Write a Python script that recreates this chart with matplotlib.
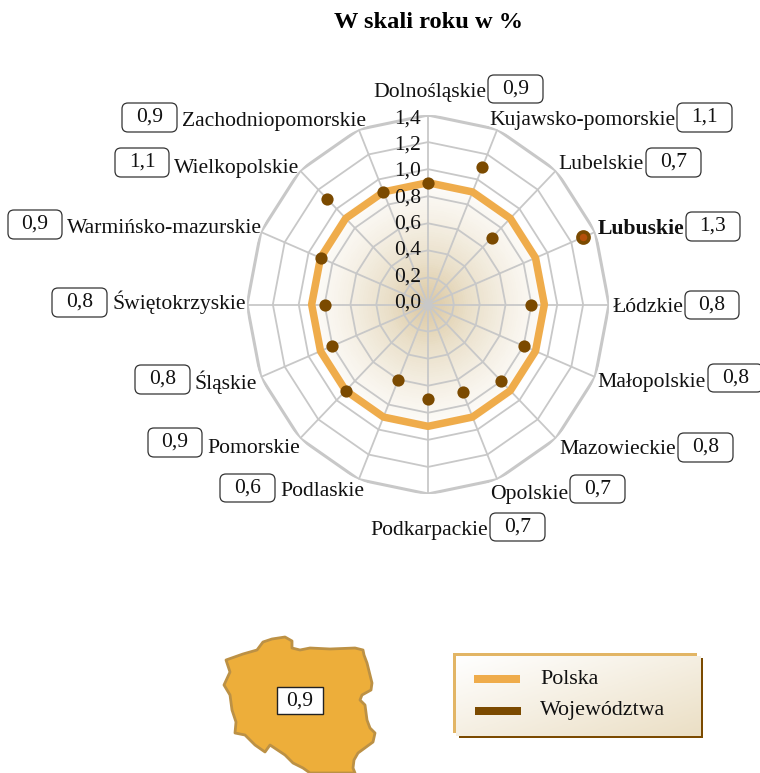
import numpy as np
import matplotlib
matplotlib.use('Agg')
import matplotlib.pyplot as plt
from matplotlib.colors import LinearSegmentedColormap
from matplotlib.patches import FancyBboxPatch, Polygon, Rectangle

plt.rcParams['font.family'] = ['Liberation Serif', 'DejaVu Serif']

# data
regions = ['Dolnośląskie', 'Kujawsko-pomorskie', 'Lubelskie', 'Lubuskie', 'Łódzkie', 'Małopolskie',
           'Mazowieckie', 'Opolskie', 'Podkarpackie', 'Podlaskie', 'Pomorskie', 'Śląskie',
           'Świętokrzyskie', 'Warmińsko-mazurskie', 'Wielkopolskie', 'Zachodniopomorskie']
woj_values = [0.9, 1.1, 0.7, 1.3, 0.8, 0.8, 0.8, 0.7, 0.7, 0.6, 0.9, 0.8, 0.8, 0.9, 1.1, 0.9]
polska_values = [0.9] * 16
ring_ticks = [0.0, 0.2, 0.4, 0.6, 0.8, 1.0, 1.2, 1.4]
highlight = 'Lubuskie'

# pill box in pixels: left, right, top, bottom
pills = [(488, 543, 75, 103), (677, 732, 103, 132), (646, 701, 148, 177), (686, 740, 212, 241),
         (685, 739, 291, 319), (708, 763, 364, 392), (678, 733, 433, 462), (570, 625, 475, 503),
         (490, 545, 513, 541), (220, 275, 474, 502), (148, 202, 428, 457), (135, 190, 365, 394),
         (52, 107, 288, 317), (8, 62, 210, 239), (115, 169, 148, 177), (122, 177, 103, 132)]
# vertical nudge of each region name against its pill, pixels
label_dy = [4, 3, 2, 3, 2, 5, 2, 5, 3, 3, 6, 3, 0, 4, 6, 4]

# rough outline of the map, pixels
poland = [(226, 660), (243, 654), (257, 650), (263, 642), (272, 639), (285, 637), (292, 641), (292, 648),
          (300, 650), (310, 648), (330, 649), (355, 648), (363, 650), (364, 655), (367, 663), (370, 675),
          (372, 683), (371, 690), (362, 695), (360, 700), (365, 705), (367, 720), (370, 728), (375, 733),
          (373, 742), (358, 753), (354, 760), (353, 768), (355, 773), (310, 773), (303, 768), (293, 763),
          (285, 755), (270, 745), (265, 752), (255, 745), (245, 735), (235, 733), (236, 722), (232, 710),
          (230, 695), (224, 685), (230, 672)]

W, H = 760, 773
cx, cy, rx, ry = 428, 304.5, 181, 189.5

fig = plt.figure(figsize=(7.6, 7.73), dpi=100)
ax = fig.add_axes([(cx - rx) / W, (H - cy - ry) / H, 2 * rx / W, 2 * ry / H], projection='polar')
ax.set_aspect('auto')
ax.set_theta_zero_location('N')
ax.set_theta_direction(-1)
ax.set_ylim(0, 1.4)
ax.axis('off')

angles = np.arange(len(regions)) * 2 * np.pi / len(regions)
closed = np.append(angles, angles[0])

# gradient inside the Polska polygon
cmap = LinearSegmentedColormap.from_list('fade', ['#DCC8A2', '#EAE0CA', '#F6F1E7', '#FFFFFF'])
tt, rr = np.meshgrid(np.linspace(0, 2 * np.pi, 181), np.linspace(0, 0.96, 60))
mesh = ax.pcolormesh(tt, rr, rr[:-1, :-1], cmap=cmap, vmin=0, vmax=0.96, shading='flat', zorder=1,
                     linewidth=0, antialiased=False)
clip = Polygon(np.column_stack([angles, np.array(polska_values) + 0.03]), closed=True, transform=ax.transData,
               fill=False, edgecolor='none')
ax.add_patch(clip)
mesh.set_clip_path(clip)

# web
for t in ring_ticks[1:]:
    ax.plot(closed, [t] * len(closed), color='#C8C8C8', lw=2.2 if t == 1.4 else 1.3, zorder=2)
for a in angles:
    ax.plot([a, a], [0, 1.4], color='#C8C8C8', lw=1.3, zorder=2)
ax.plot(closed, polska_values + polska_values[:1], color='#EFAC4B', lw=5.4, zorder=3)
ax.plot(angles, woj_values, ls='none', marker='o', ms=8.8, color='#7B4A00', mec='none', zorder=4)
i = regions.index(highlight)
ax.plot(angles[i], woj_values[i], marker='o', ms=8, mfc='#B5500A', mec='#7B4A00', mew=2.6, zorder=5)
ax.plot(0, 0, marker='o', ms=6, color='#C8C8C8', mec='none', zorder=3)

# pixel overlay for labels and legend
ov = fig.add_axes([0, 0, 1, 1], facecolor='none', zorder=5)
ov.set_xlim(0, W)
ov.set_ylim(H, 0)
ov.axis('off')

ov.text(429, 22, 'W skali roku w %', ha='center', va='center', fontsize=17.6, fontweight='bold', color='black')

for t in ring_ticks:
    ov.text(421, 303 - t * 131.5, f'{t:.1f}'.replace('.', ','), ha='right', va='center', fontsize=15.5, color='#111111')

left_side = [False] * 9 + [True] * 7
for name, val, box, on_left, dy in zip(regions, woj_values, pills, left_side, label_dy):
    x0, x1, y0, y1 = box
    ov.add_patch(FancyBboxPatch((x0 + 4, y0 + 4), x1 - x0 - 8, y1 - y0 - 8, boxstyle='round,pad=4,rounding_size=6',
                                fc='white', ec='#333333', lw=0.9))
    ym = (y0 + y1) / 2
    ov.text((x0 + x1) / 2, ym, f'{val:.1f}'.replace('.', ','), ha='center', va='center', fontsize=15.5, color='#111111')
    weight = 'bold' if name == highlight else 'normal'
    if on_left:
        ov.text(x1 + 5, ym + dy, name, ha='left', va='center', fontsize=15.6, color='#111111')
    else:
        ov.text(x0 - 2, ym + dy, name, ha='right', va='center', fontsize=15.6, fontweight=weight, color='#111111')

# map
ov.add_patch(Polygon(poland, closed=True, fc='#EDAE3A', ec='#BC9145', lw=2, joinstyle='round', clip_on=True))
ov.add_patch(Rectangle((277, 687), 46, 27, fc='white', ec='#222222', lw=1))
ov.text(300, 701, '0,9', ha='center', va='center', fontsize=15.5, color='#111111')

# legend
ov.add_patch(Rectangle((459, 658), 244, 80, fc='#7B4A00', ec='none'))
ov.add_patch(Rectangle((453, 653), 244, 80, fc='#E2B565', ec='none'))
gx, gy = np.meshgrid(np.linspace(0, 1, 100), np.linspace(0, 1, 40))
legend_cmap = LinearSegmentedColormap.from_list('lg', ['#FFFFFF', '#EBDFC5'])
ov.imshow((gx + gy) / 2, extent=(455.5, 700, 736, 656), cmap=legend_cmap, aspect='auto', zorder=2)
ov.set_xlim(0, W)
ov.set_ylim(H, 0)
ov.add_patch(Rectangle((474, 675), 46, 8, fc='#EFAC4B', ec='none', zorder=3))
ov.add_patch(Rectangle((475, 707), 46, 8, fc='#7B4A00', ec='none', zorder=3))
ov.text(540, 679, 'Polska', ha='left', va='center', fontsize=15.8, color='#111111', zorder=3)
ov.text(540, 711, 'Województwa', ha='left', va='center', fontsize=15.8, color='#111111', zorder=3)

fig.savefig('out.png', dpi=100)
